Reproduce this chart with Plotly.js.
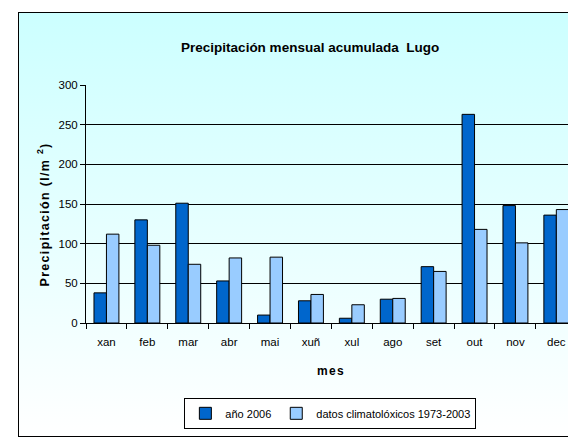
<!DOCTYPE html>
<html>
<head>
<meta charset="utf-8">
<script src="https://cdn.plot.ly/plotly-3.0.1.min.js"></script>
<style>
  html, body { margin: 0; padding: 0; width: 568px; height: 440px; overflow: hidden; background: #ffffff; }
  #frame { position: absolute; left: 18px; top: 12px; width: 600px; height: 423px; border: 1px solid #000; background: linear-gradient(#ccffff, #ffffff); }
  #chart { position: absolute; left: 0; top: 0; width: 568px; height: 440px; }
</style>
</head>
<body>
<div id="frame"></div>
<div id="chart"></div>
<script>
const months = ['xan','feb','mar','abr','mai','xuñ','xul','ago','set','out','nov','dec'];
const ano2006 = [38, 130, 151, 53, 10, 28, 6, 30, 71, 263, 148, 136];
const clima = [112, 98, 74, 82, 83, 36, 23, 31, 65, 118, 101, 143];
const yTicks = [0, 50, 100, 150, 200, 250, 300];

const font = 'Liberation Sans, Arial, sans-serif';

const traces = [
  { type: 'bar', name: 'año 2006', x: months, y: ano2006,
    marker: { color: '#0066cc', line: { color: '#000', width: 1 } } },
  { type: 'bar', name: 'datos climatolóxicos 1973-2003', x: months, y: clima,
    marker: { color: '#99ccff', line: { color: '#000', width: 1 } } }
];

const layout = {
  width: 568, height: 440,
  margin: { l: 86, r: 0, t: 85, b: 116.5 },
  paper_bgcolor: 'rgba(0,0,0,0)',
  plot_bgcolor: 'rgba(0,0,0,0)',
  font: { family: font, size: 11, color: '#000' },
  barmode: 'group', bargap: 0.39, bargroupgap: 0,
  title: { text: 'Precipitación mensual acumulada  Lugo', x: 0.546, xanchor: 'center',
           y: 1 - 47/440, yanchor: 'middle', font: { family: font, size: 13.5, weight: 'bold', color: '#000' } },
  xaxis: { type: 'category', range: [-0.5, 11.285], showline: true, linecolor: '#000', linewidth: 1,
           ticks: 'outside', tickson: 'boundaries', ticklen: 5, tickcolor: '#000', showgrid: false,
           ticklabelstandoff: 8, tickfont: { family: font, size: 11.5, color: '#000' }, fixedrange: true },
  yaxis: { range: [0, 300], tickvals: yTicks, showgrid: true, gridcolor: '#000', gridwidth: 1,
           showline: true, linecolor: '#000', linewidth: 1, ticks: 'outside', ticklen: 5, tickcolor: '#000',
           zeroline: false, tickfont: { family: font, size: 11.5, color: '#000' } },
  showlegend: true,
  legend: { orientation: 'h', x: 0.507, xanchor: 'center', y: -0.3795, yanchor: 'middle',
            bgcolor: '#ffffff', bordercolor: '#000', borderwidth: 1, itemwidth: 30,
            font: { family: font, size: 11, color: '#000' }, traceorder: 'normal' },
  annotations: [
    { text: 'Precipitación (l/m <sup>2</sup>)', xref: 'paper', yref: 'paper', x: -0.089, y: 0.455,
      xanchor: 'center', yanchor: 'middle', textangle: -90, showarrow: false,
      font: { family: font, size: 12.5, weight: 'bold', color: '#000' } },
    { text: 'mes', xref: 'paper', yref: 'paper', x: 0.508, y: -0.203,
      xanchor: 'center', yanchor: 'middle', showarrow: false,
      font: { family: font, size: 12, weight: 'bold', color: '#000' } }
  ]
};

Plotly.newPlot('chart', traces, layout, { displayModeBar: false, staticPlot: true }).then(function (gd) {
  gd.querySelectorAll('.annotation-text').forEach(function (t) {
    t.style.letterSpacing = '1.3px';
  });
});
</script>
</body>
</html>
